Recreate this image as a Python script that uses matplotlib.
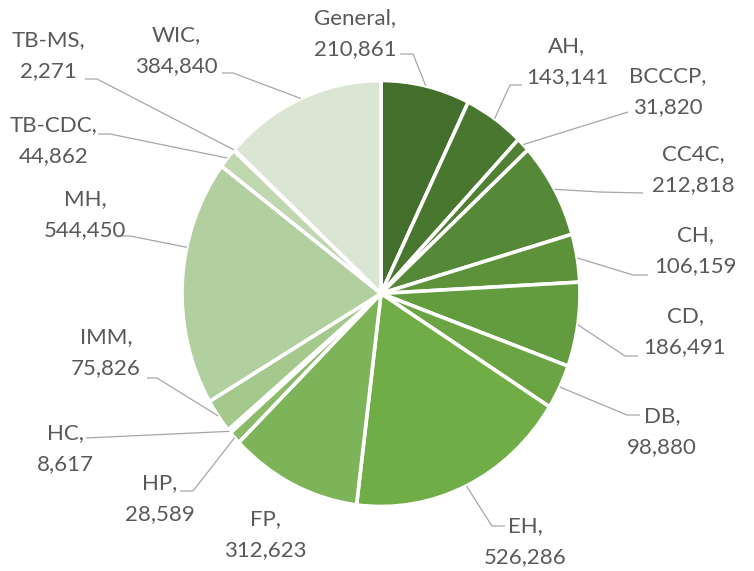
import numpy as np
import matplotlib
matplotlib.use("Agg")
import matplotlib.pyplot as plt

# ---------------- data ----------------
categories = ["General", "AH", "BCCCP", "CC4C", "CH", "CD", "DB", "EH",
              "FP", "HP", "HC", "IMM", "MH", "TB-CDC", "TB-MS", "WIC"]
values = [210861, 143141, 31820, 212818, 106159, 186491, 98880, 526286,
          312623, 28589, 8617, 75826, 544450, 44862, 2271, 384840]

# ---------------- layout (pixel positions of labels, leader elbows) ----------------
W, H = 754, 571
CX, CY = 381.0, 293.5      # pie centre in pixels (from top-left)
RX, RY = 199.0, 213.0      # pie radii in pixels

label_layout = {
    "General": (355, 34, [(400, 54), (413, 54)], 0.5),
    "AH":      (567, 62, [(522, 85), (510, 85)], 0.5),
    "BCCCP":   (668, 92, [(628, 112)], 0.5),
    "CC4C":    (693, 170, [(643, 193), (600, 192)], 0.5),
    "CH":      (695, 251, [(648, 275), (633, 275)], 0.5),
    "CD":      (685, 332, [(638, 356), (625, 356)], 0.5),
    "DB":      (662, 432, [(640, 415), (627, 415)], 0.5),
    "EH":      (525, 542, [(505, 526), (492, 526)], 0.5),
    "FP":      (265, 535, [], 0.5),
    "HP":      (160, 499, [(180, 491), (193, 491)], 0.5),
    "HC":      (65, 449, [(86, 438)], 0.5),
    "IMM":     (106, 353, [(147, 378), (157, 378)], 0.5),
    "MH":      (85, 215, [(122, 236), (130, 236)], 0.64),
    "TB-CDC":  (54, 141, [(98, 134), (110, 134)], 0.5),
    "TB-MS":   (48, 56, [(85, 79), (97, 79)], 0.5),
    "WIC":     (176, 51, [(222, 73), (233, 73)], 0.5),
}

# colours: monochromatic green palette (dark -> base -> light)
dark = np.array([0x43, 0x6E, 0x2B]) / 255
base = np.array([0x70, 0xAD, 0x47]) / 255
light = np.array([0xDA, 0xE5, 0xD3]) / 255
n = len(values)
mid_i = 7
colors = []
for i in range(n):
    if i <= mid_i:
        t = i / mid_i
        colors.append(tuple(dark + (base - dark) * t))
    else:
        t = (i - mid_i) / (n - 1 - mid_i)
        colors.append(tuple(base + (light - base) * t))


def P(px, py):
    return ((px - CX) / RX, (CY - py) / RY)


fig = plt.figure(figsize=(W / 100, H / 100), dpi=100)
ax = fig.add_axes([0, 0, 1, 1])
ax.pie(values, startangle=90, counterclock=False, colors=colors,
       radius=1.0, center=(0, 0),
       wedgeprops=dict(edgecolor="white", linewidth=2.6))
ax.set_aspect("auto")
ax.set_xlim(-CX / RX, (W - CX) / RX)
ax.set_ylim(-(H - CY) / RY, CY / RY)
ax.axis("off")

total = float(sum(values))
cum = 0.0
for name, v in zip(categories, values):
    a0 = cum / total * 360
    a1 = (cum + v) / total * 360
    cum += v
    lx, ly, pts, frac = label_layout[name]
    theta = np.deg2rad(a0 + (a1 - a0) * frac)
    ex, ey = np.sin(theta), np.cos(theta)
    ax.text(*P(lx, ly), f"{name},\n{v:,}", ha="center", va="center",
            fontsize=16, family="Lato", color="#595959", linespacing=1.68)
    if pts:
        xs = [P(px, py)[0] for px, py in pts] + [ex]
        ys = [P(px, py)[1] for px, py in pts] + [ey]
        ax.plot(xs, ys, color="#a6a6a6", lw=0.9, solid_capstyle="butt")

fig.savefig("out.png", dpi=100)
